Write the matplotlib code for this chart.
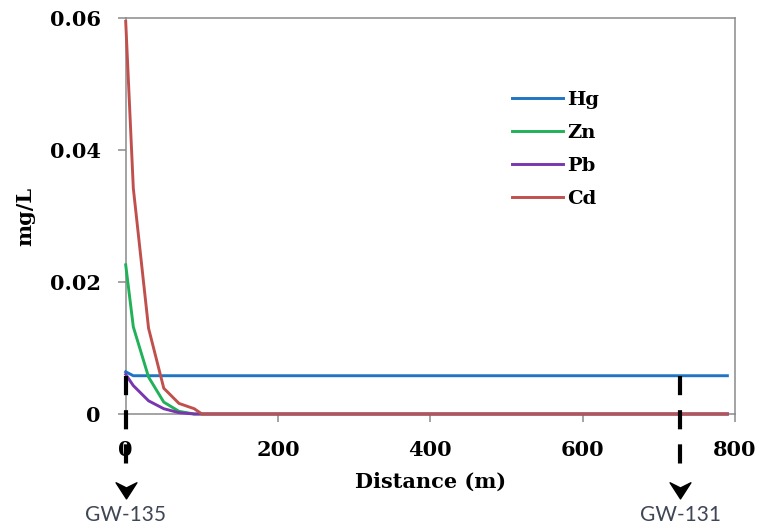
import matplotlib
matplotlib.use("Agg")
import matplotlib.pyplot as plt
from matplotlib.path import Path

# distance along the flow path (m)
distance = [0, 10, 30, 50, 70, 90, 100, 200, 400, 600, 790]

hg = [0.0064, 0.0058, 0.0058, 0.0058, 0.0058, 0.0058, 0.0058, 0.0058, 0.0058, 0.0058, 0.0058]
zn = [0.0226, 0.0132, 0.0056, 0.0018, 0.0004, 0.0, 0.0, 0.0, 0.0, 0.0, 0.0]
pb = [0.0060, 0.0043, 0.0020, 0.0008, 0.0002, 0.0, 0.0, 0.0, 0.0, 0.0, 0.0]
cd = [0.0595, 0.0342, 0.0130, 0.0039, 0.0016, 0.0008, 0.0, 0.0, 0.0, 0.0, 0.0]

series_names = ["Hg", "Zn", "Pb", "Cd"]
series_colors = ["#1f74c4", "#21b158", "#7a35b0", "#c0504d"]

wells = ["GW-135", "GW-131"]
well_x = [0, 728]

plt.rcParams["font.family"] = ["DejaVu Serif"]
plt.rcParams["font.weight"] = "bold"

fig = plt.figure(figsize=(7.59, 5.31), dpi=100)
ax = fig.add_axes([125.7 / 759, 117 / 531, 609.3 / 759, 396 / 531])

for name, values, color in zip(series_names, [hg, zn, pb, cd], series_colors):
    ax.plot(distance, values, color=color, lw=2.1, label=name, solid_joinstyle="round",
            zorder=3, clip_on=False)

ax.set_xlim(0, 800)
ax.set_ylim(0, 0.06)
ax.set_xticks([0, 200, 400, 600, 800])
ax.set_yticks([0, 0.02, 0.04, 0.06])
ax.set_yticklabels(["0", "0.02", "0.04", "0.06"])

for side in ["left", "right", "top", "bottom"]:
    ax.spines[side].set_color("#8a8a8a")
    ax.spines[side].set_linewidth(1.1)
ax.tick_params(axis="both", colors="#8a8a8a", length=6, width=1.1, direction="out",
               labelcolor="black", labelsize=15)
ax.tick_params(axis="y", pad=12)
ax.tick_params(axis="x", pad=13)
for lbl in ax.get_xticklabels() + ax.get_yticklabels():
    lbl.set_fontweight("bold")

ax.set_xlabel("Distance (m)", fontsize=15, fontweight="bold")
ax.set_ylabel("mg/L", fontsize=15, fontweight="bold")
ax.xaxis.set_label_coords(0.5, -0.146)
ax.yaxis.set_label_coords(-0.149, 0.5)

leg = ax.legend(loc="upper left", bbox_to_anchor=(0.634, 0.815), frameon=False,
                borderpad=0, borderaxespad=0, handlelength=2.6, handletextpad=0.25,
                labelspacing=0.76, prop={"family": "DejaVu Serif", "weight": "bold", "size": 14})

# well markers: dashed drop lines with chevron heads
chevron = Path([(0, -1), (-1, 0.55), (0, 0.05), (1, 0.55), (0, -1)],
               [Path.MOVETO, Path.LINETO, Path.LINETO, Path.LINETO, Path.CLOSEPOLY])
for name, wx in zip(wells, well_x):
    ax.plot([wx, wx], [0.0058, -0.0080], color="black", lw=3.0, dashes=(4.6, 3.6),
            clip_on=False, zorder=5)
    ax.plot([wx], [-0.0112], marker=chevron, markersize=15, color="black",
            clip_on=False, zorder=5, linestyle="none")
    ax.text(wx, -0.0153, name, ha="center", va="center", fontsize=15,
            family="Lato", fontweight="normal", color="#3f4656", clip_on=False)

fig.savefig("out.png", dpi=100)
